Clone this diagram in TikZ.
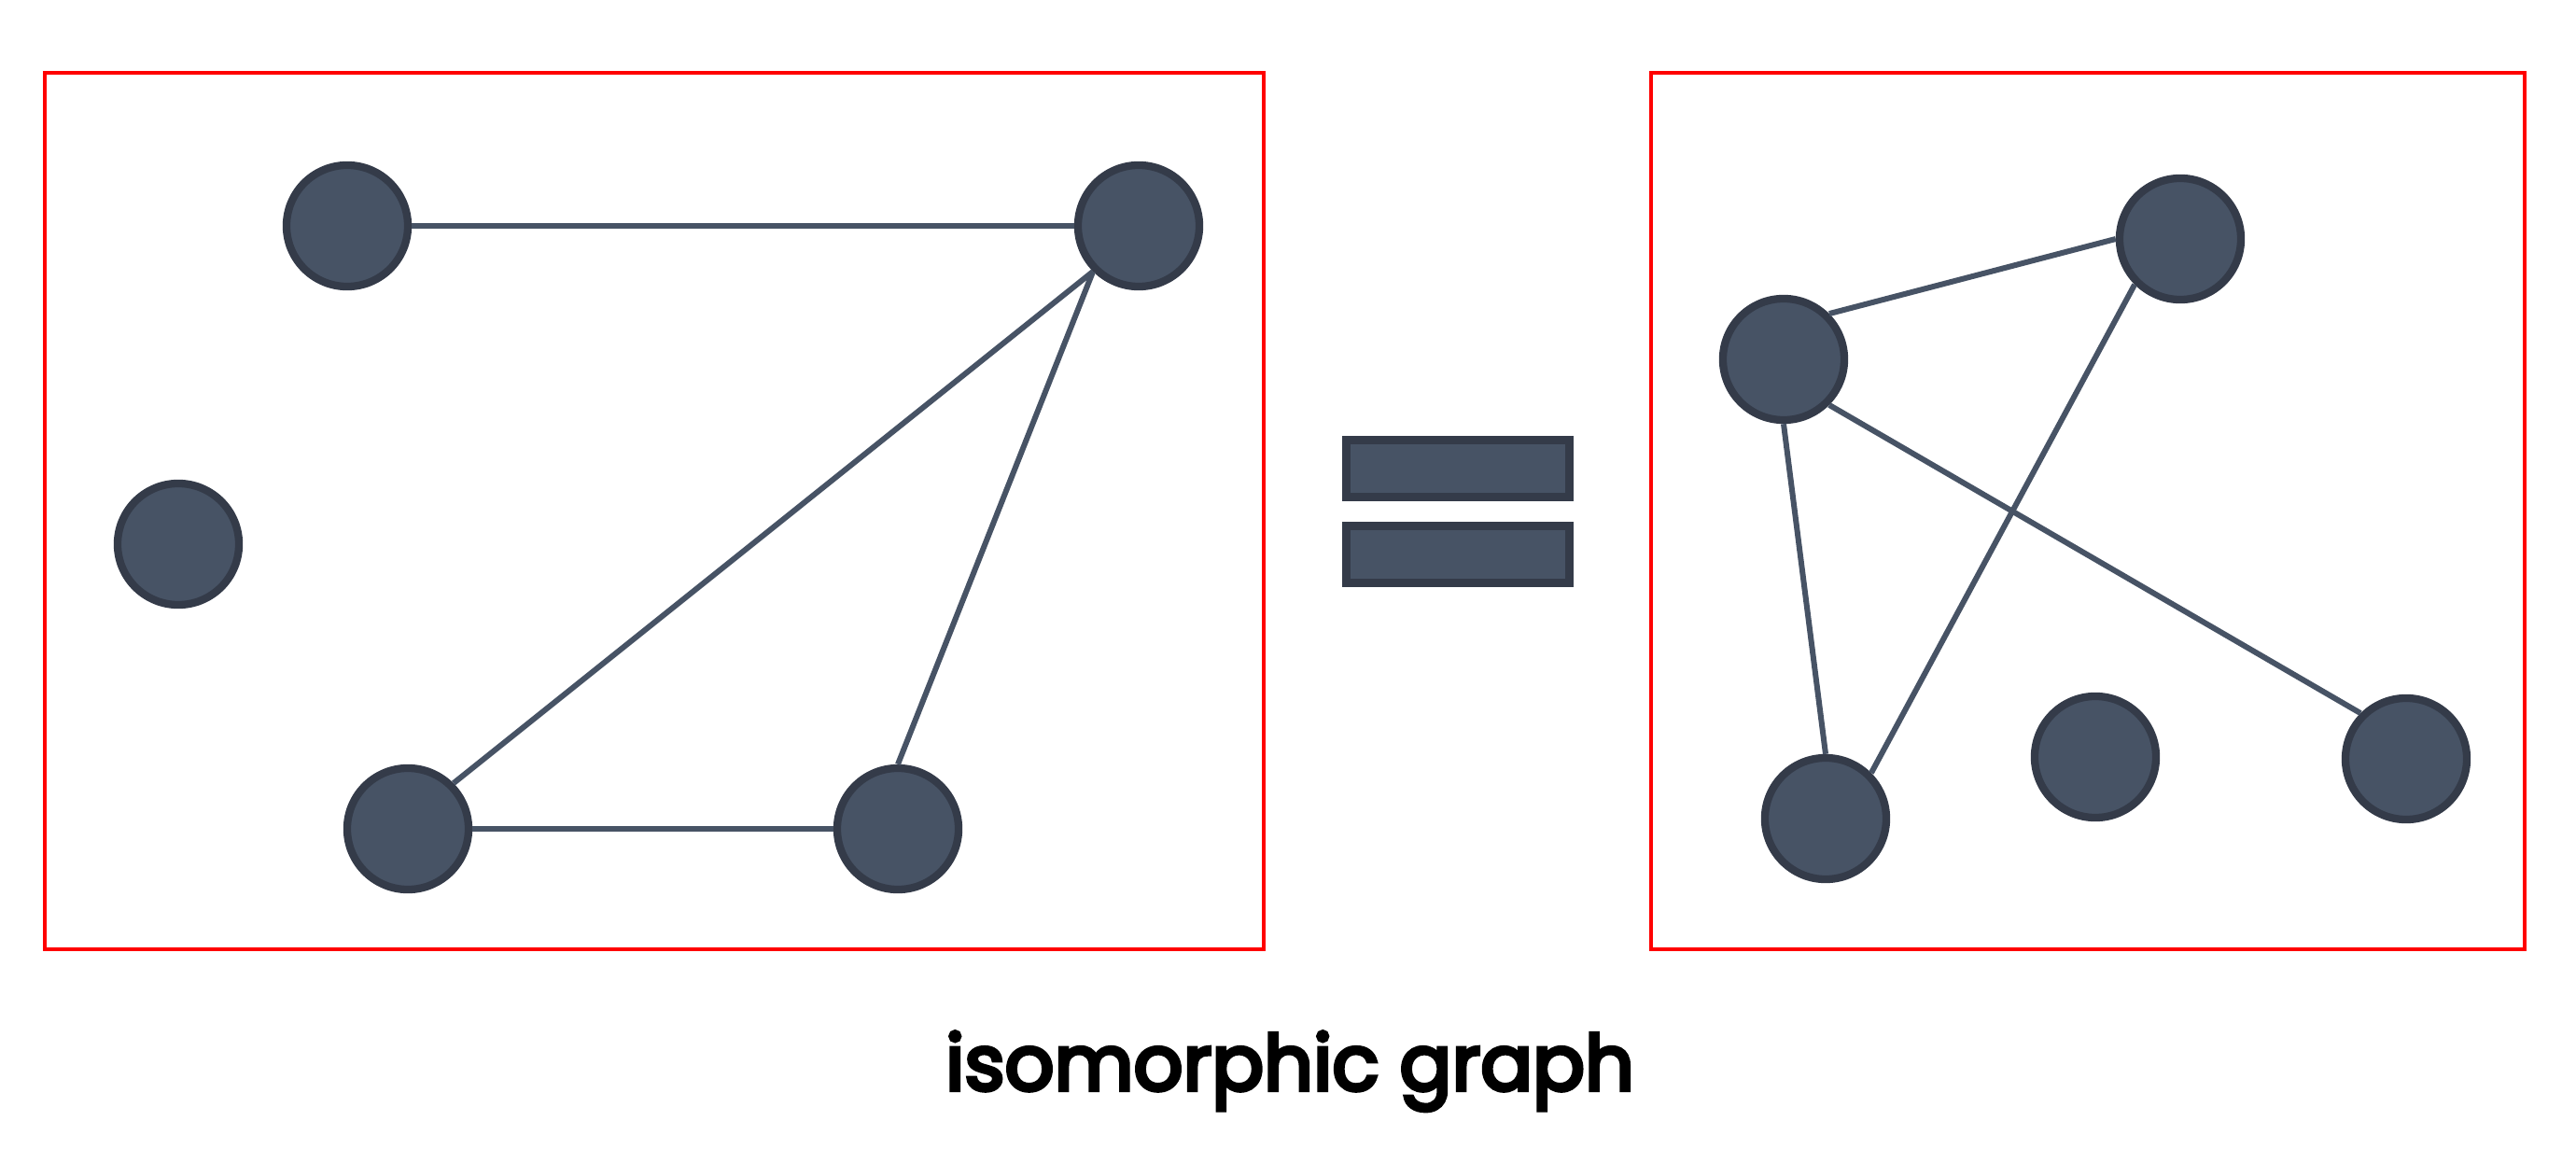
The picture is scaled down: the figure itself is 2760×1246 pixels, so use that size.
\documentclass[tikz,border=0pt]{standalone}
\usepackage{fontspec}
\newfontfamily\capfont{Poppins}[FakeBold=5]
\definecolor{nodefill}{HTML}{475365}
\definecolor{nodeborder}{HTML}{343B49}
\definecolor{framered}{HTML}{FF0000}
\begin{document}
\begin{tikzpicture}[x=0.01cm,y=-0.01cm,
  vertex/.style={circle,draw=nodeborder,fill=nodefill,line width=0.083cm,minimum size=1.30cm,inner sep=0pt},
  edge/.style={draw=nodefill,line width=0.06cm},
  frame/.style={draw=framered,line width=0.043cm},
  bar/.style={draw=nodeborder,fill=nodefill,line width=0.09cm,minimum width=2.39cm,minimum height=0.61cm,inner sep=0pt}]
\useasboundingbox (0,0) rectangle (2760,1246);
% frames
\draw[frame] (48,78) rectangle (1354,1017);
\draw[frame] (1769,78) rectangle (2705,1017);
% left graph
\node[vertex] (A) at (372,242) {};
\node[vertex] (B) at (1220,242) {};
\node[vertex] (C) at (191,583) {};
\node[vertex] (D) at (437,888) {};
\node[vertex] (E) at (962,888) {};
\draw[edge] (A.0) -- (B.180);
\draw[edge] (B.225) -- (D.45);
\draw[edge] (B.225) -- (E.90);
\draw[edge] (D.0) -- (E.180);
% right graph
\node[vertex] (F) at (1911,385) {};
\node[vertex] (G) at (2336,256) {};
\node[vertex] (H) at (2578,813) {};
\node[vertex] (I) at (2245,811) {};
\node[vertex] (J) at (1956,877) {};
\draw[edge] (F.45) -- (G.180);
\draw[edge] (F.-45) -- (H.135);
\draw[edge] (F.-90) -- (J.90);
\draw[edge] (G.225) -- (J.45);
% equals sign
\node[bar] (eqtop) at (1562,502) {};
\node[bar] (eqbot) at (1562,594) {};
% caption
\node[anchor=base,inner sep=0pt,font=\capfont\fontsize{23.5}{28}\selectfont] (cap) at (1382,1168) {isomorphic graph};
\end{tikzpicture}
\end{document}
